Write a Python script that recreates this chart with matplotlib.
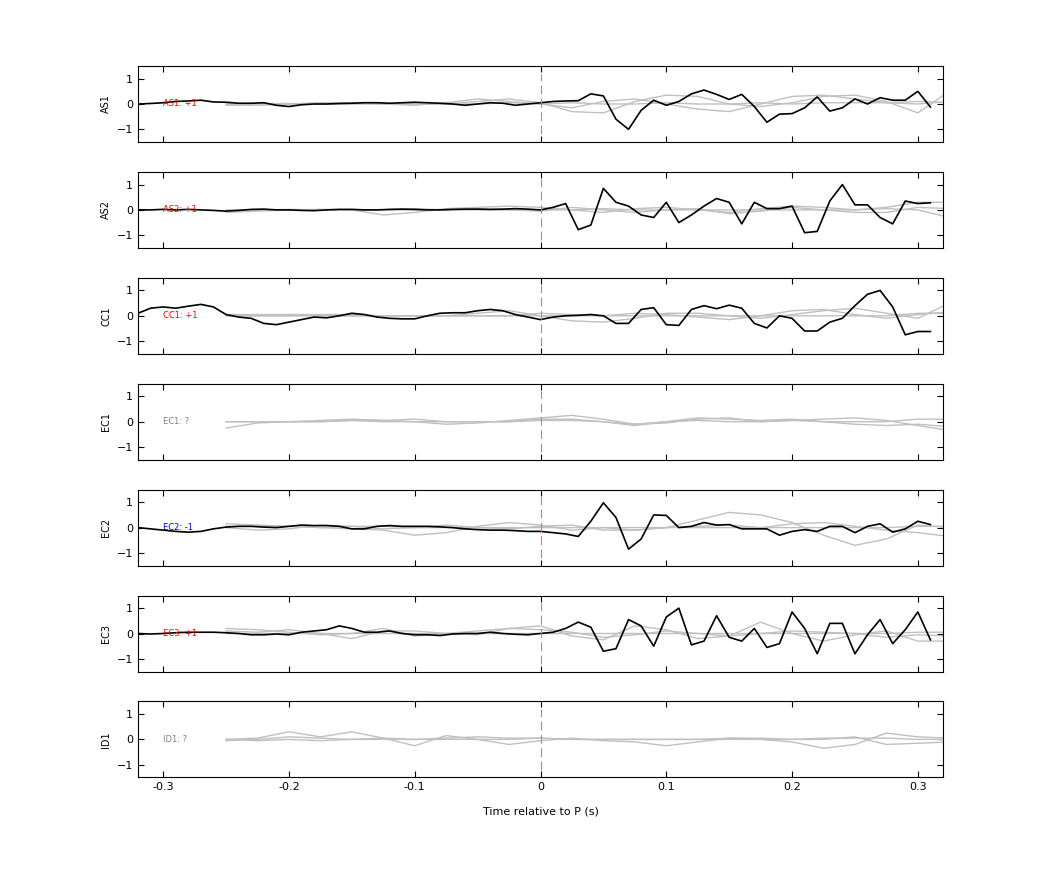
import numpy as np
import matplotlib.pyplot as plt

stations = ['AS1', 'AS2', 'CC1', 'EC1', 'EC2', 'EC3', 'ID1']
polarity = ['+1', '+1', '+1', '?', '-1', '+1', '?']
pol_color = {'+1': 'red', '-1': 'blue', '?': 'gray'}

# black trace sampled every 0.01 s from -0.32 to 0.31
t_black = np.round(np.arange(-0.32, 0.315, 0.01), 2)
black = {
    'AS1': [0, 0.02, 0.05, 0.1, 0.12, 0.15, 0.08, 0.07, 0.03, 0.03, 0.05, -0.05, -0.1, -0.03,
            0.0, 0.0, 0.02, 0.03, 0.05, 0.05, 0.03, 0.05, 0.07, 0.05, 0.03, 0.0, -0.05, 0.0,
            0.05, 0.03, -0.05, 0.0, 0.05, 0.1, 0.12, 0.13, 0.4, 0.32, -0.6,
            -1.0, -0.25, 0.15, -0.05, 0.1, 0.4, 0.55, 0.38, 0.18, 0.38, -0.1, -0.72, -0.4,
            -0.38, -0.15, 0.28, -0.28, -0.15, 0.2, 0.0, 0.25, 0.15, 0.15, 0.5, -0.12],
    'AS2': [0.0, 0.0, 0.02, 0.0, 0.02, 0.0, -0.02, -0.05, -0.02, 0.02, 0.03, 0.0, 0.0, -0.02,
            -0.03, 0.0, 0.02, 0.02, 0.0, 0.0, 0.02, 0.03, 0.02, 0.0, 0.0, 0.02, 0.03, 0.03,
            0.02, 0.03, 0.05, 0.03, 0.0, 0.1, 0.25, -0.78, -0.6, 0.85, 0.3, 0.15, -0.2, -0.3,
            0.3, -0.5, -0.2, 0.15, 0.45, 0.3, -0.55, 0.3, 0.05, 0.05, 0.15, -0.9, -0.85, 0.35,
            1.0, 0.2, 0.2, -0.3, -0.55, 0.35, 0.25, 0.28],
    'CC1': [0.1, 0.3, 0.35, 0.3, 0.38, 0.45, 0.35, 0.05, -0.05, -0.1, -0.3, -0.35, -0.25,
            -0.15, -0.05, -0.08, 0.0, 0.1, 0.05, -0.05, -0.1, -0.12, -0.12, 0.0, 0.1, 0.12,
            0.12, 0.2, 0.25, 0.2, 0.05, -0.05, -0.15, -0.05, 0.0, 0.02, 0.05, 0.0, -0.3, -0.3,
            0.25, 0.32, -0.35, -0.38, 0.25, 0.4, 0.28, 0.42, 0.3, -0.3, -0.48, 0.0, -0.1, -0.6,
            -0.6, -0.25, -0.1, 0.4, 0.85, 1.0, 0.35, -0.75, -0.62, -0.62],
    'EC2': [0.0, -0.05, -0.1, -0.15, -0.18, -0.15, -0.05, 0.02, 0.05, 0.05, 0.02, 0.0, 0.05,
            0.1, 0.08, 0.08, 0.05, -0.05, -0.05, 0.05, 0.08, 0.05, 0.05, 0.05, 0.03, 0.0,
            -0.05, -0.08, -0.1, -0.1, -0.12, -0.15, -0.15, -0.2, -0.25, -0.35, 0.25, 0.98, 0.4,
            -0.85, -0.45, 0.5, 0.48, 0.0, 0.05, 0.2, 0.1, 0.12, -0.05, -0.05, -0.05, -0.3,
            -0.15, -0.08, -0.15, 0.05, 0.05, -0.2, 0.05, 0.15, -0.18, -0.05, 0.25, 0.12],
    'EC3': [0.0, -0.02, 0.0, 0.03, 0.05, 0.05, 0.05, 0.03, 0.0, -0.05, -0.05, -0.02, -0.05,
            0.05, 0.1, 0.15, 0.3, 0.2, 0.05, 0.05, 0.1, 0.0, -0.05, -0.05, -0.08, -0.02, 0.0,
            0.0, 0.05, 0.0, -0.03, -0.05, 0.0, 0.05, 0.2, 0.45, 0.25, -0.7, -0.6, 0.55, 0.3,
            -0.5, 0.65, 1.0, -0.45, -0.3, 0.7, -0.15, -0.3, 0.2, -0.55, -0.4, 0.85, 0.2, -0.8,
            0.4, 0.4, -0.8, -0.05, 0.55, -0.4, 0.15, 0.85, -0.25],
}

# gray (predicted) traces sampled every 0.025 s from -0.25 to 0.325
t_gray = np.round(np.arange(-0.25, 0.33, 0.025), 3)
gray = {
    'AS1': [[0, 0, 0, 0, 0.02, 0, 0, 0, 0.1, 0.2, 0.05, -0.3, -0.35, 0.1, 0.35, 0.3, 0.0, -0.1, 0.05, 0.3, 0.35, 0.1, -0.35, 0.5],
            [-0.05, -0.05, 0, 0.05, 0.05, 0, -0.05, 0.05, 0.2, 0.1, 0, -0.15, 0.1, 0.2, 0, -0.2, -0.3, 0.0, 0.3, 0.35, 0.2, 0.05, 0.0, 0.1],
            [0, 0.02, 0.02, 0, 0, 0.02, 0, 0, 0, 0.05, 0, 0.05, 0, 0, 0.05, 0, 0, 0.05, 0, 0.05, 0.05, 0.05, 0.1, 0.05]],
    'AS2': [[-0.1, -0.05, 0, 0, 0, -0.2, -0.1, 0.05, 0.1, 0.15, 0.1, 0, -0.1, 0.05, 0.1, 0, -0.1, 0.05, 0.15, 0.1, 0, 0.1, 0.3, 0.3],
            [0, 0, 0.02, 0, 0, 0, 0.05, 0, 0.05, 0, -0.05, 0.1, 0, -0.1, 0, 0.05, -0.15, -0.05, 0.1, 0, -0.1, -0.1, 0.1, 0.05],
            [0, 0, 0, 0.02, 0, 0, 0, 0, 0, 0, 0, 0, 0.05, 0, 0, 0, 0, 0, 0, 0, 0, 0.05, 0, -0.3]],
    'CC1': [[0, 0, 0, 0, 0, 0, 0, 0, 0.1, 0.2, 0, -0.2, -0.25, -0.1, 0.1, 0.1, 0, -0.1, 0.05, 0.2, 0.3, 0.1, -0.1, 0.5],
            [0.05, 0.05, 0.05, 0.05, 0.05, 0, 0, 0, 0, 0, 0.1, 0.05, 0, 0.1, 0.05, -0.05, -0.15, 0.0, 0.2, 0.25, 0.05, -0.1, 0.05, 0.15],
            [0, 0, 0, 0.02, 0, 0, 0, 0, 0, 0, 0, 0, 0, 0, 0, 0, 0, 0, 0, 0, 0, 0, 0.1, 0.1]],
    'EC1': [[-0.25, -0.05, 0, 0, 0.05, 0.05, 0, -0.1, -0.05, 0.05, 0.15, 0.25, 0.1, -0.1, -0.05, 0.1, 0.15, 0, 0.05, 0.1, 0.15, 0.05, -0.15, -0.35],
            [0, 0, 0, 0.05, 0.1, 0.05, 0.1, 0, 0, 0, 0.1, 0.1, 0, -0.15, 0, 0.15, 0.1, 0.05, 0.1, 0.0, -0.1, -0.15, -0.1, -0.2],
            [0, 0, 0, 0, 0.05, 0, 0, 0, 0, 0, 0.05, 0.05, 0, -0.1, 0, 0.05, 0, 0, 0.05, 0, 0, 0, 0.1, 0.1]],
    'EC2': [[0.15, 0.1, 0.05, 0, -0.05, -0.1, -0.3, -0.2, 0.05, 0.2, 0.1, -0.1, 0.0, -0.1, 0.0, 0.3, 0.6, 0.5, 0.2, -0.3, -0.7, -0.45, 0.1, 0.0],
            [0, -0.1, -0.05, 0.1, 0.05, -0.05, 0, 0.1, 0, -0.05, 0.05, 0.1, -0.1, -0.1, 0, 0.05, 0.1, 0, 0.15, 0.2, 0.05, -0.1, -0.2, -0.35],
            [0.05, 0.05, 0.05, 0, 0.05, 0.05, 0, 0, 0, 0, 0, 0, 0, 0, 0, 0, 0, 0, 0, 0, 0, 0, 0.05, 0.05]],
    'EC3': [[0.2, 0.15, 0.05, -0.05, 0, 0.2, -0.1, 0, 0.1, 0.2, 0.3, -0.1, -0.25, 0.3, 0.15, -0.2, -0.1, 0.45, 0.0, -0.3, -0.05, 0.1, -0.3, -0.3],
            [0.1, 0.05, 0.15, 0.0, -0.2, 0.1, 0.1, 0.0, -0.05, 0.2, 0.15, 0.05, -0.15, -0.05, 0.1, 0.0, -0.1, 0.0, 0.1, 0.05, 0.0, -0.15, -0.05, -0.1],
            [0, 0, 0, 0, 0, 0, 0, 0, 0, 0, 0, 0, 0, 0, 0, 0, 0, 0, 0, 0, 0, 0, 0.05, 0.05]],
    'ID1': [[0, 0.05, 0.3, 0.1, 0.3, 0.05, -0.25, 0.15, 0.0, -0.2, -0.05, 0.05, -0.05, -0.1, -0.25, -0.1, 0.05, 0.0, -0.1, -0.35, -0.2, 0.25, 0.1, 0.05],
            [-0.05, 0.0, 0.1, 0.05, 0.0, 0.05, 0.0, 0.05, 0.1, 0.05, 0.05, 0.0, 0.0, 0.0, 0.0, 0.0, 0.05, 0.05, 0.0, 0.0, 0.1, -0.2, -0.15, -0.1],
            [0, -0.05, 0, -0.05, 0, 0, 0, 0, 0, 0, 0.05, 0, 0, 0, 0, 0, 0, 0, 0, 0.05, 0.05, 0.05, 0.0, 0.0]],
}

fig = plt.figure(figsize=(10.42, 8.75), dpi=100)
W, H = 1042., 875.
for i, st in enumerate(stations):
    top = 66 + 105.9 * i
    ax = fig.add_axes([138 / W, 1 - (top + 76) / H, 805 / W, 76 / H])
    for g in gray[st]:
        ax.plot(t_gray[:len(g)], g, color='#c0c0c0', lw=1)
    if st in black:
        ax.plot(t_black, black[st], color='black', lw=1.2)
    ax.plot([0, 0], [-1.2, 1.2], color='#ff6666', lw=0.8, dashes=(8, 4))
    ax.text(-0.3, 0, st + ': ' + polarity[i], color=pol_color[polarity[i]],
            fontsize=6, va='center', ha='left')
    ax.set_xlim(-0.32, 0.32)
    ax.set_ylim(-1.5, 1.5)
    ax.set_yticks([-1, 0, 1])
    ax.set_xticks([-0.3, -0.2, -0.1, 0, 0.1, 0.2, 0.3])
    ax.tick_params(direction='in', top=True, right=True, labelsize=8, length=4)
    ax.set_ylabel(st, fontsize=7)
    if i < len(stations) - 1:
        ax.set_xticklabels([])
    else:
        ax.set_xticklabels(['-0.3', '-0.2', '-0.1', '0', '0.1', '0.2', '0.3'])
        ax.set_xlabel('Time relative to P (s)', fontsize=8, labelpad=10)

plt.savefig('out.png')
